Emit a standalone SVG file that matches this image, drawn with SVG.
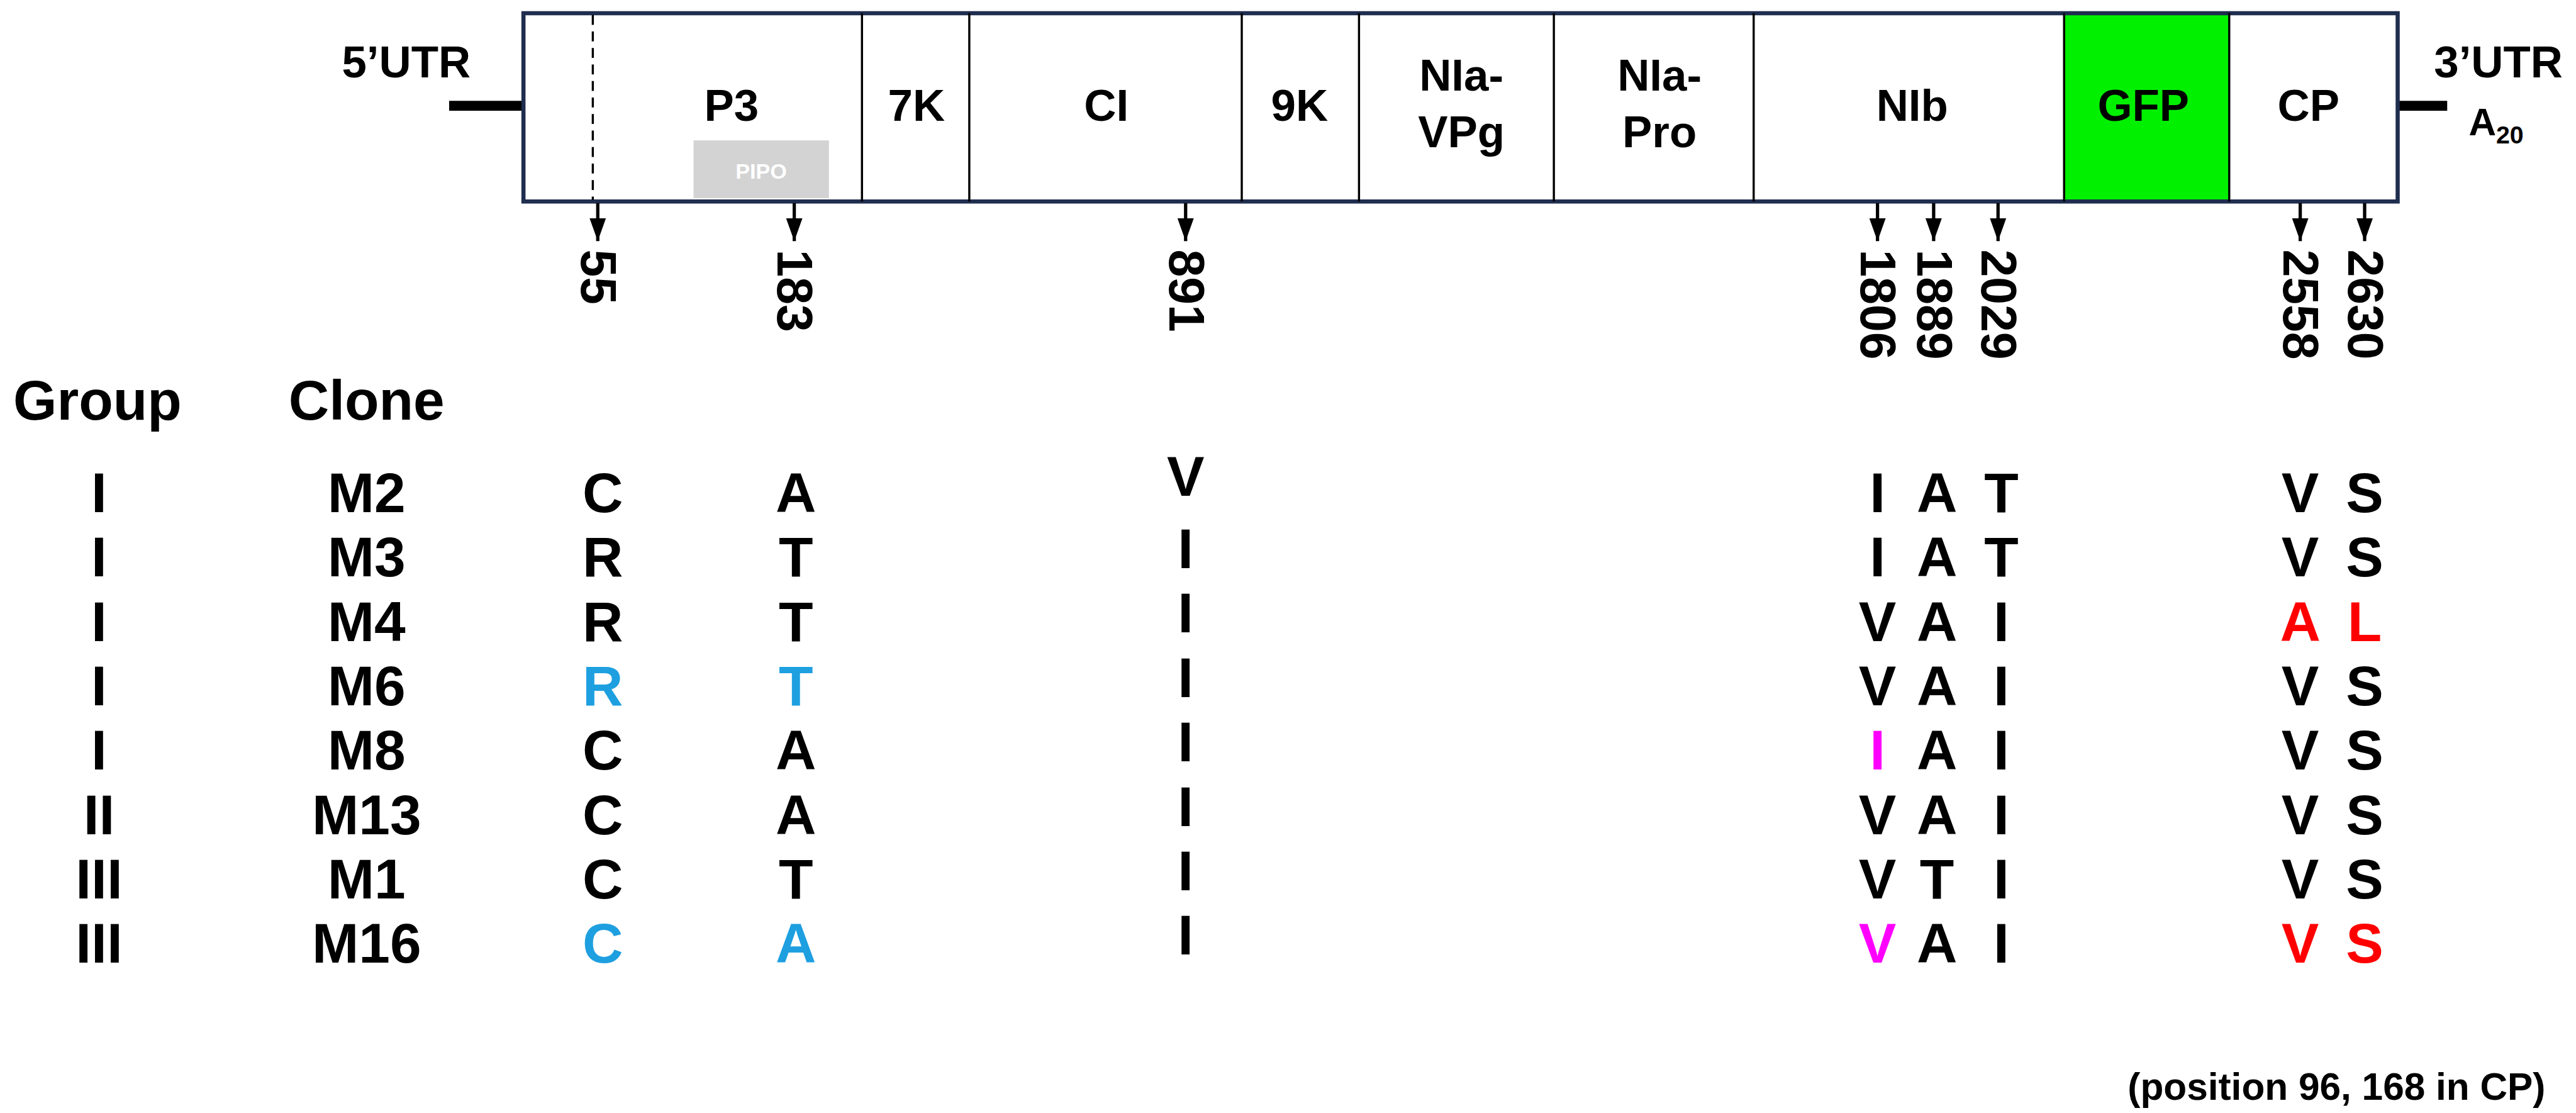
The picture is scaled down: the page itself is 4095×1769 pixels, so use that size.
<svg xmlns="http://www.w3.org/2000/svg" width="4095" height="1769" viewBox="0 0 4095 1769">
<style>
text{font-family:"Liberation Sans",Arial,sans-serif;font-weight:bold;fill:#000}
.seg{font-size:27px;text-anchor:middle}
.num{font-size:30px}
.t{font-size:34px;text-anchor:middle}
.div{stroke:#000;stroke-width:1.3}
.ar{stroke:#000;stroke-width:2;marker-end:url(#ah)}
.b{fill:#1E9FE0}.r{fill:#FF0000}.m{fill:#FF00FF}
</style>
<defs><marker id="ah" markerWidth="14" markerHeight="10" refX="14" refY="5" orient="auto" markerUnits="userSpaceOnUse" viewBox="0 0 14 10"><path d="M0,0 L14,5 L0,10 Z" fill="#000"/></marker></defs>
<rect width="4095" height="1769" fill="#fff"/>
<g transform="scale(2.625)">
<g id="genome">
<line x1="272" y1="64" x2="317" y2="64" stroke="#000" stroke-width="6"/>
<line x1="1452" y1="64" x2="1482" y2="64" stroke="#000" stroke-width="6"/>
<rect x="1250" y="8" width="100" height="114" fill="#00F000"/>
<rect x="317" y="8" width="1135" height="114" fill="none" stroke="#1F2D4F" stroke-width="2.5"/>
<line class="div" x1="522" y1="8" x2="522" y2="122"/>
<line class="div" x1="587" y1="8" x2="587" y2="122"/>
<line class="div" x1="752" y1="8" x2="752" y2="122"/>
<line class="div" x1="823" y1="8" x2="823" y2="122"/>
<line class="div" x1="941" y1="8" x2="941" y2="122"/>
<line class="div" x1="1062" y1="8" x2="1062" y2="122"/>
<line class="div" x1="1250" y1="8" x2="1250" y2="122"/>
<line class="div" x1="1350" y1="8" x2="1350" y2="122"/>
<line x1="359" y1="9" x2="359" y2="121" stroke="#000" stroke-width="1.3" stroke-dasharray="6,4"/>
<rect x="420" y="85" width="82" height="35" fill="#D3D3D3"/>
<text x="461" y="108" style="font-size:13px;fill:#fff" text-anchor="middle">PIPO</text>
<text x="246" y="47" style="font-size:27px" text-anchor="middle">5’UTR</text>
<text x="1513" y="47" style="font-size:27px" text-anchor="middle">3’UTR</text>
<text x="1495" y="82" style="font-size:23px">A<tspan style="font-size:15px" dy="5">20</tspan></text>
<text class="seg" x="443" y="73">P3</text>
<text class="seg" x="555" y="73">7K</text>
<text class="seg" x="670" y="73">CI</text>
<text class="seg" x="787" y="73">9K</text>
<text class="seg" x="885" y="55">NIa-</text>
<text class="seg" x="885" y="89">VPg</text>
<text class="seg" x="1005" y="55">NIa-</text>
<text class="seg" x="1005" y="89">Pro</text>
<text class="seg" x="1158" y="73">NIb</text>
<text class="seg" x="1298" y="73">GFP</text>
<text class="seg" x="1398" y="73">CP</text>
</g>
<g id="connectors">
<line class="ar" x1="362" y1="123" x2="362" y2="146"/>
<line class="ar" x1="481" y1="123" x2="481" y2="146"/>
<line class="ar" x1="718" y1="123" x2="718" y2="146"/>
<line class="ar" x1="1137" y1="123" x2="1137" y2="146"/>
<line class="ar" x1="1171" y1="123" x2="1171" y2="146"/>
<line class="ar" x1="1210" y1="123" x2="1210" y2="146"/>
<line class="ar" x1="1393" y1="123" x2="1393" y2="146"/>
<line class="ar" x1="1432" y1="123" x2="1432" y2="146"/>
</g>
<g id="positions">
<text class="num" transform="translate(352,151) rotate(90)">55</text>
<text class="num" transform="translate(471,151) rotate(90)">183</text>
<text class="num" transform="translate(708,151) rotate(90)">891</text>
<text class="num" transform="translate(1127,151) rotate(90)">1806</text>
<text class="num" transform="translate(1161,151) rotate(90)">1889</text>
<text class="num" transform="translate(1200,151) rotate(90)">2029</text>
<text class="num" transform="translate(1383,151) rotate(90)">2558</text>
<text class="num" transform="translate(1422,151) rotate(90)">2630</text>
</g>
<g id="table">
<text class="t" x="59" y="254">Group</text>
<text class="t" x="222" y="254">Clone</text>
<g id="rowM2"><text class="t" x="60" y="310">I</text><text class="t" x="222" y="310">M2</text><text class="t" x="365" y="310">C</text><text class="t" x="482" y="310">A</text><text class="t" x="718" y="300">V</text><text class="t" x="1137" y="310">I</text><text class="t" x="1173" y="310">A</text><text class="t" x="1212" y="310">T</text><text class="t" x="1393" y="310">V</text><text class="t" x="1432" y="310">S</text></g>
<g id="rowM3"><text class="t" x="60" y="349">I</text><text class="t" x="222" y="349">M3</text><text class="t" x="365" y="349">R</text><text class="t" x="482" y="349">T</text><text class="t" x="718" y="344">I</text><text class="t" x="1137" y="349">I</text><text class="t" x="1173" y="349">A</text><text class="t" x="1212" y="349">T</text><text class="t" x="1393" y="349">V</text><text class="t" x="1432" y="349">S</text></g>
<g id="rowM4"><text class="t" x="60" y="388">I</text><text class="t" x="222" y="388">M4</text><text class="t" x="365" y="388">R</text><text class="t" x="482" y="388">T</text><text class="t" x="718" y="383">I</text><text class="t" x="1137" y="388">V</text><text class="t" x="1173" y="388">A</text><text class="t" x="1212" y="388">I</text><text class="t r" x="1393" y="388">A</text><text class="t r" x="1432" y="388">L</text></g>
<g id="rowM6"><text class="t" x="60" y="427">I</text><text class="t" x="222" y="427">M6</text><text class="t b" x="365" y="427">R</text><text class="t b" x="482" y="427">T</text><text class="t" x="718" y="422">I</text><text class="t" x="1137" y="427">V</text><text class="t" x="1173" y="427">A</text><text class="t" x="1212" y="427">I</text><text class="t" x="1393" y="427">V</text><text class="t" x="1432" y="427">S</text></g>
<g id="rowM8"><text class="t" x="60" y="466">I</text><text class="t" x="222" y="466">M8</text><text class="t" x="365" y="466">C</text><text class="t" x="482" y="466">A</text><text class="t" x="718" y="461">I</text><text class="t m" x="1137" y="466">I</text><text class="t" x="1173" y="466">A</text><text class="t" x="1212" y="466">I</text><text class="t" x="1393" y="466">V</text><text class="t" x="1432" y="466">S</text></g>
<g id="rowM13"><text class="t" x="60" y="505">II</text><text class="t" x="222" y="505">M13</text><text class="t" x="365" y="505">C</text><text class="t" x="482" y="505">A</text><text class="t" x="718" y="500">I</text><text class="t" x="1137" y="505">V</text><text class="t" x="1173" y="505">A</text><text class="t" x="1212" y="505">I</text><text class="t" x="1393" y="505">V</text><text class="t" x="1432" y="505">S</text></g>
<g id="rowM1"><text class="t" x="60" y="544">III</text><text class="t" x="222" y="544">M1</text><text class="t" x="365" y="544">C</text><text class="t" x="482" y="544">T</text><text class="t" x="718" y="539">I</text><text class="t" x="1137" y="544">V</text><text class="t" x="1173" y="544">T</text><text class="t" x="1212" y="544">I</text><text class="t" x="1393" y="544">V</text><text class="t" x="1432" y="544">S</text></g>
<g id="rowM16"><text class="t" x="60" y="583">III</text><text class="t" x="222" y="583">M16</text><text class="t b" x="365" y="583">C</text><text class="t b" x="482" y="583">A</text><text class="t" x="718" y="578">I</text><text class="t m" x="1137" y="583">V</text><text class="t" x="1173" y="583">A</text><text class="t" x="1212" y="583">I</text><text class="t r" x="1393" y="583">V</text><text class="t r" x="1432" y="583">S</text></g>
<text x="1415" y="666" style="font-size:23px" text-anchor="middle">(position 96, 168 in CP)</text>
</g>
</g>
</svg>
